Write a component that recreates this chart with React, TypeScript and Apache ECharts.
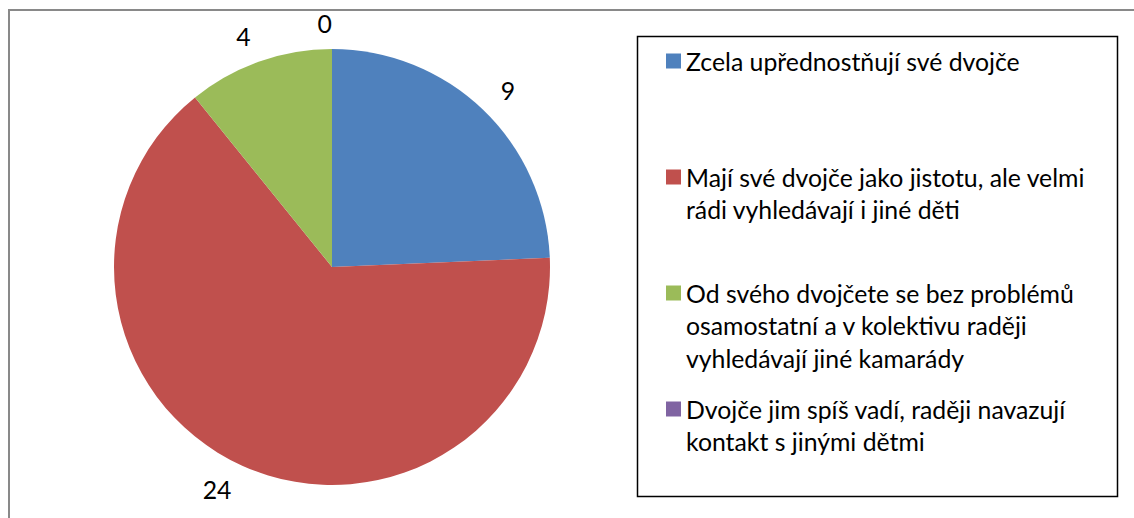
import React, { useEffect, useRef } from "react";
import * as echarts from "echarts";

const categories = [
  "Zcela upřednostňují své dvojče",
  "Mají své dvojče jako jistotu, ale velmi rádi vyhledávají i jiné děti",
  "Od svého dvojčete se bez problémů osamostatní a v kolektivu raději vyhledávají jiné kamarády",
  "Dvojče jim spíš vadí, raději navazují kontakt s jinými dětmi",
];
const values = [9, 24, 4, 0];
const legendLines = [
  ["Zcela upřednostňují své dvojče"],
  ["Mají své dvojče jako jistotu, ale velmi", "rádi vyhledávají i jiné děti"],
  ["Od svého dvojčete se bez problémů", "osamostatní a v kolektivu raději", "vyhledávají jiné kamarády"],
  ["Dvojče jim spíš vadí, raději navazují", "kontakt s jinými dětmi"],
];
const colors = ["#4F81BD", "#C0504D", "#9BBB59", "#8064A2"];

const FONT = 'Lato, "Open Sans", sans-serif';
const FS = 24.8;
const LH = 32.5;
const iconCenters = [61, 177, 293, 409];

export default function App() {
  const ref = useRef<HTMLDivElement>(null);
  useEffect(() => {
    if (!ref.current) return;
    const chart = echarts.init(ref.current, null, { renderer: "svg" });
    chart.setOption({
      animation: false,
      backgroundColor: "#ffffff",
      color: colors,
      graphic: [
        {
          type: "rect",
          silent: true,
          shape: { x: 9, y: 10, width: 1140, height: 530 },
          style: { fill: "none", stroke: "#898989", lineWidth: 2 },
        },
        {
          type: "rect",
          silent: true,
          shape: { x: 637.5, y: 36.5, width: 480, height: 460 },
          style: { fill: "none", stroke: "#000000", lineWidth: 1.5 },
        },
      ],
      legend: categories.map((name, i) => {
        const n = legendLines[i].length;
        return {
          data: [name],
          orient: "vertical",
          left: 666,
          top: iconCenters[i] - ((2 * n - 1) * LH) / 2,
          padding: 0,
          itemWidth: 15,
          itemHeight: 15,
          icon: "rect",
          selectedMode: false,
          textStyle: { fontFamily: FONT, fontSize: FS, color: "#000", lineHeight: LH },
          formatter: () => "\n".repeat(n - 1) + legendLines[i].join("\n"),
        };
      }),
      series: [
        {
          type: "pie",
          center: [332, 267],
          radius: 218,
          startAngle: 90,
          clockwise: true,
          avoidLabelOverlap: false,
          data: categories.map((name, i) => ({ name, value: values[i] })),
          label: {
            show: true,
            position: "outside",
            formatter: "{c}",
            fontFamily: FONT,
            fontSize: FS,
            color: "#000",
            distanceToLabelLine: 0,
          },
          labelLine: { show: false, length: 26, length2: 0 },
          emphasis: { disabled: true },
        },
      ],
    });
    return () => chart.dispose();
  }, []);
  return (
    <div
      ref={ref}
      style={{ position: "absolute", left: 0, top: 0, width: 1134, height: 518, overflow: "hidden" }}
    />
  );
}
